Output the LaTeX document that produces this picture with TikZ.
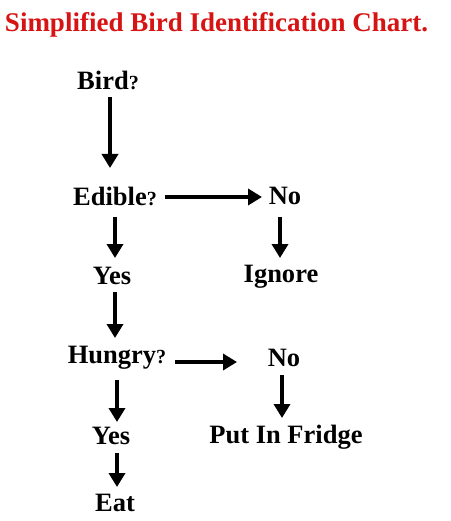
\documentclass[tikz,border=0pt]{standalone}
\usepackage{fontspec}
\setmainfont{Liberation Serif}
\usetikzlibrary{arrows.meta}
\definecolor{titlered}{RGB}{215,20,20}
\newcommand{\qm}{{\fontsize{20}{22}\selectfont ?}}
\tikzset{
  lbl/.style={inner sep=0pt, font=\fontsize{26.5}{30}\selectfont\bfseries},
  ttl/.style={inner sep=0pt, text=titlered, font=\fontsize{27}{31}\selectfont\bfseries},
  arr/.style={line width=4.6pt, -{Triangle[width=16pt,length=14pt]}}
}
\begin{document}
\begin{tikzpicture}[x=1pt,y=-1pt]
\useasboundingbox (0,0) rectangle (450,521);
\node[ttl] (title) at (216.5,25) {Simplified Bird Identification Chart.};
\node[lbl] (bird) at (108,80) {Bird\qm};
\node[lbl] (edible) at (115,196) {Edible\qm};
\node[lbl] (no1) at (285,196) {No};
\node[lbl] (yes1) at (112,276) {Yes};
\node[lbl] (ignore) at (281,277) {Ignore};
\node[lbl] (hungry) at (117,358) {Hungry\qm};
\node[lbl] (no2) at (284,358) {No};
\node[lbl] (yes2) at (111,436) {Yes};
\node[lbl] (fridge) at (286,437) {Put In Fridge};
\node[lbl] (eat) at (115,503) {Eat};
\draw[arr] ([shift={(2,17)}]bird.center) -- ([shift={(-5,-28)}]edible.center);
\draw[arr] ([shift={(50,1)}]edible.center) -- ([shift={(-23,1)}]no1.center);
\draw[arr] ([shift={(0,21)}]edible.center) -- ([shift={(3,-18)}]yes1.center);
\draw[arr] ([shift={(-5,21)}]no1.center) -- ([shift={(-1,-19)}]ignore.center);
\draw[arr] ([shift={(3,16)}]yes1.center) -- ([shift={(-2,-20)}]hungry.center);
\draw[arr] ([shift={(58,4)}]hungry.center) -- ([shift={(-47,4)}]no2.center);
\draw[arr] ([shift={(0,22)}]hungry.center) -- ([shift={(6,-14)}]yes2.center);
\draw[arr] ([shift={(-2,17)}]no2.center) -- ([shift={(-4,-19)}]fridge.center);
\draw[arr] ([shift={(6,17)}]yes2.center) -- ([shift={(2,-16)}]eat.center);
\end{tikzpicture}
\end{document}
